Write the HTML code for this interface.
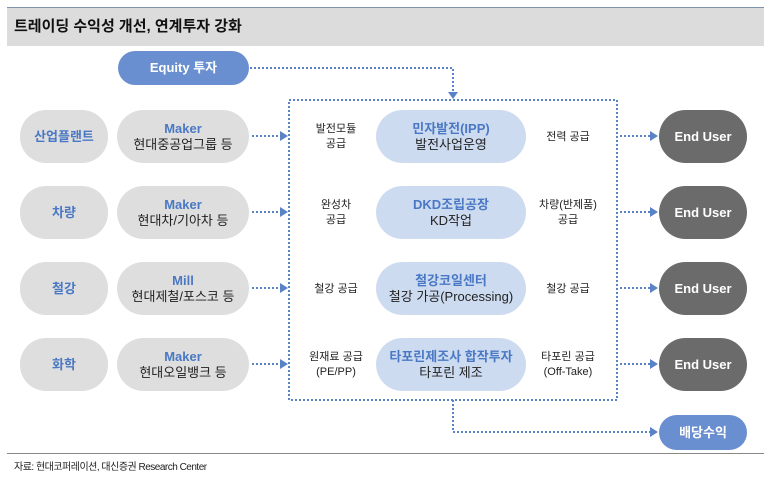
<!DOCTYPE html>
<html><head><meta charset="utf-8"><style>
body{margin:0;width:771px;height:477px;background:#fff;position:relative;overflow:hidden;font-family:"Liberation Sans","Noto Sans CJK KR",sans-serif;}
.a{position:absolute;display:flex;flex-direction:column;align-items:center;justify-content:center;text-align:center;line-height:16px;}
.cat{background:#dedede;border-radius:26px;color:#4a78c4;font-weight:bold;font-size:13px;width:88px;height:53px;left:20px;}
.mk{background:#dedede;border-radius:27px;font-size:13px;color:#222;width:132px;height:53px;left:117px;}
.mk b,.ct b{color:#4a78c4;font-weight:bold;}
.ct{background:#cddbf1;border-radius:27px;font-size:13px;color:#222;width:150px;height:53px;left:376px;}
.lb{font-size:11px;color:#222;width:80px;line-height:15px;}
.eu{background:#6b6b6b;border-radius:27px;color:#fff;font-size:13px;font-weight:bold;width:88px;height:53px;left:659px;}
</style></head><body>
<div style="position:absolute;left:7px;top:7px;width:757px;height:38px;background:#dcdcdc;border-top:1px solid #7f93ad;"></div>
<div style="position:absolute;left:14px;top:15px;font-size:15px;font-weight:bold;color:#111;">트레이딩 수익성 개선, 연계투자 강화</div>
<div class="a" style="left:118px;top:51px;width:131px;height:34px;border-radius:17px;background:#6a8fd0;color:#fff;font-size:13px;font-weight:bold;">Equity 투자</div>
<svg style="position:absolute;left:0;top:0" width="771" height="477">
<g stroke="#5a82c6" stroke-width="2" stroke-dasharray="2,2" fill="none">
<path d="M250 68H453V94"/>
<rect x="289" y="100" width="328" height="300"/>
<path d="M252 136H280M252 212H280M252 288H280M252 364H280"/>
<path d="M620 136H650M620 212H650M620 288H650M620 364H650"/>
<path d="M453 400V432H650"/>
</g>
<g fill="#5a82c6">
<path d="M448 92L458 92L453 99Z"/>
<path d="M280 131L288 136L280 141Z"/><path d="M280 207L288 212L280 217Z"/><path d="M280 283L288 288L280 293Z"/><path d="M280 359L288 364L280 369Z"/>
<path d="M650 131L658 136L650 141Z"/><path d="M650 207L658 212L650 217Z"/><path d="M650 283L658 288L650 293Z"/><path d="M650 359L658 364L650 369Z"/>
<path d="M650 427L658 432L650 437Z"/>
</g>
</svg>
<div class="a cat" style="top:110px">산업플랜트</div>
<div class="a cat" style="top:186px">차량</div>
<div class="a cat" style="top:262px">철강</div>
<div class="a cat" style="top:338px">화학</div>
<div class="a mk" style="top:110px"><b>Maker</b>현대중공업그룹 등</div>
<div class="a mk" style="top:186px"><b>Maker</b>현대차/기아차 등</div>
<div class="a mk" style="top:262px"><b>Mill</b>현대제철/포스코 등</div>
<div class="a mk" style="top:338px"><b>Maker</b>현대오일뱅크 등</div>
<div class="a lb" style="left:296px;top:120px;height:34px">발전모듈<br>공급</div>
<div class="a lb" style="left:296px;top:196px;height:34px">완성차<br>공급</div>
<div class="a lb" style="left:296px;top:272px;height:34px">철강 공급</div>
<div class="a lb" style="left:296px;top:348px;height:34px">원재료 공급<br>(PE/PP)</div>
<div class="a ct" style="top:110px"><b>민자발전(IPP)</b>발전사업운영</div>
<div class="a ct" style="top:186px"><b>DKD조립공장</b>KD작업</div>
<div class="a ct" style="top:262px"><b>철강코일센터</b>철강 가공(Processing)</div>
<div class="a ct" style="top:338px"><b>타포린제조사 합작투자</b>타포린 제조</div>
<div class="a lb" style="left:528px;top:120px;height:34px">전력 공급</div>
<div class="a lb" style="left:528px;top:196px;height:34px">차량(반제품)<br>공급</div>
<div class="a lb" style="left:528px;top:272px;height:34px">철강 공급</div>
<div class="a lb" style="left:528px;top:348px;height:34px">타포린 공급<br>(Off-Take)</div>
<div class="a eu" style="top:110px">End User</div>
<div class="a eu" style="top:186px">End User</div>
<div class="a eu" style="top:262px">End User</div>
<div class="a eu" style="top:338px">End User</div>
<div class="a" style="left:659px;top:415px;width:88px;height:35px;border-radius:18px;background:#6a8fd0;color:#fff;font-size:13px;font-weight:bold;">배당수익</div>
<div style="position:absolute;left:7px;top:453px;width:757px;height:1px;background:#888;"></div>
<div style="position:absolute;left:14px;top:458px;font-size:10px;color:#222;letter-spacing:-0.5px;">자료: 현대코퍼레이션, 대신증권 Research Center</div>
</body></html>
